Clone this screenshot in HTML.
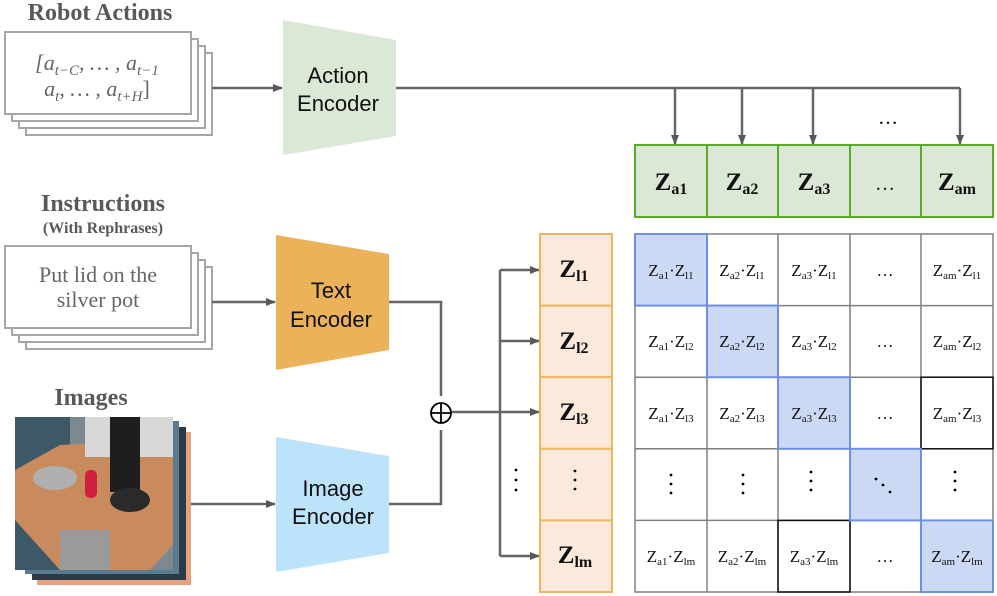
<!DOCTYPE html>
<html><head><meta charset="utf-8"><style>
html,body{margin:0;padding:0;background:#fff;}
svg{display:block;}
.ser{font-family:"Liberation Serif",serif;}
.san{font-family:"Liberation Sans",sans-serif;}
</style></head><body>
<svg width="997" height="596" viewBox="0 0 997 596" xmlns="http://www.w3.org/2000/svg">
<defs>
<marker id="ar" markerWidth="10" markerHeight="10" refX="9" refY="5" orient="auto" markerUnits="userSpaceOnUse">
<path d="M0,1 L10,5 L0,9 Z" fill="#595959"/></marker>
</defs>
<g class="ser" font-weight="bold" fill="#595959" text-anchor="middle">
<text x="100" y="20" font-size="24">Robot Actions</text>
<text x="103" y="211" font-size="24">Instructions</text>
<text x="103" y="233" font-size="16">(With Rephrases)</text>
<text x="91" y="405" font-size="24">Images</text>
</g>
<g fill="#fff" stroke="#a6a6a6" stroke-width="2">
<rect x="26" y="53" width="186" height="82"/>
<rect x="19" y="46" width="186" height="82"/>
<rect x="12" y="39" width="186" height="82"/>
<rect x="5" y="32" width="186" height="82"/>
<rect x="26" y="267" width="186" height="82"/>
<rect x="19" y="260" width="186" height="82"/>
<rect x="12" y="253" width="186" height="82"/>
<rect x="5" y="246" width="186" height="82"/>
</g>
<g class="ser" fill="#666" font-size="22" text-anchor="middle" font-style="italic">
<text x="97" y="70">[a<tspan font-size="15" dy="5">t−C</tspan><tspan dy="-5">, … , a</tspan><tspan font-size="15" dy="5">t−1</tspan></text>
<text x="97" y="96">a<tspan font-size="15" dy="5">t</tspan><tspan dy="-5">, … , a</tspan><tspan font-size="15" dy="5">t+H</tspan><tspan dy="-5" font-style="normal">]</tspan></text>
</g>
<g class="ser" fill="#666" font-size="22" text-anchor="middle">
<text x="98" y="282">Put lid on the</text>
<text x="98" y="307">silver pot</text>
</g>
<rect x="37" y="432" width="154" height="153" fill="#e6a080"/>
<rect x="32" y="427" width="154" height="153" fill="#2a3a48"/>
<rect x="25" y="421" width="154" height="153" fill="#5a7a90"/>
<rect x="15" y="417" width="158" height="153" fill="#7a8a90"/>
<rect x="15" y="417" width="55" height="153" fill="#3d5866"/>
<polygon points="15,520 15,470 60,445 173,440 173,545 150,570 60,570" fill="#c98a5e"/>
<rect x="85" y="417" width="88" height="40" fill="#d8d8d8"/>
<ellipse cx="55" cy="478" rx="22" ry="12" fill="#b0b0b0"/>
<rect x="110" y="417" width="30" height="75" fill="#1e1e1e"/>
<ellipse cx="130" cy="500" rx="20" ry="12" fill="#2a2a2a"/>
<rect x="85" y="470" width="12" height="28" fill="#d02040" rx="5"/>
<rect x="60" y="530" width="50" height="40" fill="#9a9a9a"/>
<polygon points="283,20 396,40 396,136 283,155" fill="#dce8d6"/>
<polygon points="276,235 389,254 389,350 276,370" fill="#ebb25a"/>
<polygon points="276,437 389,456 389,553 276,572" fill="#bde3fb"/>
<g class="san" font-size="22" fill="#111" text-anchor="middle">
<text x="338" y="83">Action</text><text x="338" y="111">Encoder</text>
<text x="331" y="298">Text</text><text x="331" y="327">Encoder</text>
<text x="333" y="496">Image</text><text x="333" y="524">Encoder</text>
</g>
<g stroke="#666" stroke-width="2.5" fill="none">
<line x1="212" y1="88" x2="282" y2="88" marker-end="url(#ar)"/>
<line x1="212" y1="302" x2="275" y2="302" marker-end="url(#ar)"/>
<line x1="191" y1="504" x2="275" y2="504" marker-end="url(#ar)"/>
<polyline points="396,88 960,88"/>
<line x1="675" y1="88" x2="675" y2="144" marker-end="url(#ar)"/>
<line x1="742" y1="88" x2="742" y2="144" marker-end="url(#ar)"/>
<line x1="813" y1="88" x2="813" y2="144" marker-end="url(#ar)"/>
<line x1="960" y1="88" x2="960" y2="144" marker-end="url(#ar)"/>
<polyline points="389,302 441,302 441,396"/>
<polyline points="389,504 441,504 441,430"/>
<line x1="452" y1="412" x2="500" y2="412"/>
<line x1="500" y1="270" x2="500" y2="556"/>
<line x1="500" y1="270" x2="539" y2="270" marker-end="url(#ar)"/>
<line x1="500" y1="341" x2="539" y2="341" marker-end="url(#ar)"/>
<line x1="500" y1="412" x2="539" y2="412" marker-end="url(#ar)"/>
<line x1="500" y1="556" x2="539" y2="556" marker-end="url(#ar)"/>
</g>
<circle cx="441" cy="413" r="10" fill="#fff" stroke="#000" stroke-width="1.8"/>
<line x1="431" y1="413" x2="451" y2="413" stroke="#000" stroke-width="1.8"/>
<line x1="441" y1="403" x2="441" y2="423" stroke="#000" stroke-width="1.8"/>
<text x="888" y="124" class="ser" font-size="20" text-anchor="middle">…</text>
<g fill="#000"><circle cx="516" cy="470" r="1.4"/><circle cx="516" cy="480" r="1.4"/><circle cx="516" cy="490" r="1.4"/></g>
<g fill="#dce8d6" stroke="#5aab28" stroke-width="2">
<rect x="635" y="145" width="72" height="72"/><rect x="707" y="145" width="71" height="72"/>
<rect x="778" y="145" width="72" height="72"/><rect x="850" y="145" width="71" height="72"/>
<rect x="921" y="145" width="72" height="72"/>
</g>
<g class="ser" font-weight="bold" font-size="25" text-anchor="middle" fill="#111">
<text x="671" y="190">Z<tspan font-size="16" dy="4">a1</tspan></text>
<text x="742" y="190">Z<tspan font-size="16" dy="4">a2</tspan></text>
<text x="814" y="190">Z<tspan font-size="16" dy="4">a3</tspan></text>
<text x="885" y="190" font-weight="normal" font-size="20">…</text>
<text x="957" y="190">Z<tspan font-size="16" dy="4">am</tspan></text>
</g>
<g fill="#fbe9dc" stroke="#efb660" stroke-width="2">
<rect x="540" y="234" width="72" height="71.6"/><rect x="540" y="305.6" width="72" height="71.6"/>
<rect x="540" y="377.2" width="72" height="71.6"/><rect x="540" y="448.8" width="72" height="71.6"/>
<rect x="540" y="520.4" width="72" height="71.6"/>
</g>
<g class="ser" font-weight="bold" font-size="25" text-anchor="middle" fill="#111">
<text x="574" y="277">Z<tspan font-size="16" dy="4">l1</tspan></text>
<text x="574" y="349">Z<tspan font-size="16" dy="4">l2</tspan></text>
<text x="574" y="420">Z<tspan font-size="16" dy="4">l3</tspan></text>
<text x="575" y="563">Z<tspan font-size="16" dy="4">lm</tspan></text>
</g>
<g fill="#000"><circle cx="575" cy="471" r="1.4"/><circle cx="575" cy="480" r="1.4"/><circle cx="575" cy="489" r="1.4"/></g>
<rect x="635" y="234" width="358" height="358" fill="#fff" stroke="#808080" stroke-width="1.5"/>
<g stroke="#808080" stroke-width="1.5">
<line x1="707" y1="234" x2="707" y2="592"/><line x1="778" y1="234" x2="778" y2="592"/>
<line x1="850" y1="234" x2="850" y2="592"/><line x1="921" y1="234" x2="921" y2="592"/>
<line x1="635" y1="305.6" x2="993" y2="305.6"/><line x1="635" y1="377.2" x2="993" y2="377.2"/>
<line x1="635" y1="448.8" x2="993" y2="448.8"/><line x1="635" y1="520.4" x2="993" y2="520.4"/>
</g>
<g fill="none" stroke="#111" stroke-width="1.5">
<rect x="921" y="377.2" width="72" height="71.6"/>
<rect x="778" y="520.4" width="72" height="71.6"/>
</g>
<g fill="#ccd9f5" stroke="#6d8fe6" stroke-width="2">
<rect x="635" y="234" width="72" height="71.6"/>
<rect x="707" y="305.6" width="71" height="71.6"/>
<rect x="778" y="377.2" width="72" height="71.6"/>
<rect x="850" y="448.8" width="71" height="71.6"/>
<rect x="921" y="520.4" width="72" height="71.6"/>
</g>
<g class="ser" font-size="17" text-anchor="middle" fill="#111">
<text x="671" y="276">Z<tspan font-size="11" dy="3">a1</tspan><tspan dy="-3">·Z</tspan><tspan font-size="11" dy="3">l1</tspan></text>
<text x="742" y="276">Z<tspan font-size="11" dy="3">a2</tspan><tspan dy="-3">·Z</tspan><tspan font-size="11" dy="3">l1</tspan></text>
<text x="814" y="276">Z<tspan font-size="11" dy="3">a3</tspan><tspan dy="-3">·Z</tspan><tspan font-size="11" dy="3">l1</tspan></text>
<text x="885" y="276">…</text>
<text x="957" y="276">Z<tspan font-size="11" dy="3">am</tspan><tspan dy="-3">·Z</tspan><tspan font-size="11" dy="3">l1</tspan></text>
<text x="671" y="347">Z<tspan font-size="11" dy="3">a1</tspan><tspan dy="-3">·Z</tspan><tspan font-size="11" dy="3">l2</tspan></text>
<text x="742" y="347">Z<tspan font-size="11" dy="3">a2</tspan><tspan dy="-3">·Z</tspan><tspan font-size="11" dy="3">l2</tspan></text>
<text x="814" y="347">Z<tspan font-size="11" dy="3">a3</tspan><tspan dy="-3">·Z</tspan><tspan font-size="11" dy="3">l2</tspan></text>
<text x="885" y="347">…</text>
<text x="957" y="347">Z<tspan font-size="11" dy="3">am</tspan><tspan dy="-3">·Z</tspan><tspan font-size="11" dy="3">l2</tspan></text>
<text x="671" y="419">Z<tspan font-size="11" dy="3">a1</tspan><tspan dy="-3">·Z</tspan><tspan font-size="11" dy="3">l3</tspan></text>
<text x="742" y="419">Z<tspan font-size="11" dy="3">a2</tspan><tspan dy="-3">·Z</tspan><tspan font-size="11" dy="3">l3</tspan></text>
<text x="814" y="419">Z<tspan font-size="11" dy="3">a3</tspan><tspan dy="-3">·Z</tspan><tspan font-size="11" dy="3">l3</tspan></text>
<text x="885" y="419">…</text>
<text x="957" y="419">Z<tspan font-size="11" dy="3">am</tspan><tspan dy="-3">·Z</tspan><tspan font-size="11" dy="3">l3</tspan></text>
<text x="671" y="562">Z<tspan font-size="11" dy="3">a1</tspan><tspan dy="-3">·Z</tspan><tspan font-size="11" dy="3">lm</tspan></text>
<text x="742" y="562">Z<tspan font-size="11" dy="3">a2</tspan><tspan dy="-3">·Z</tspan><tspan font-size="11" dy="3">lm</tspan></text>
<text x="814" y="562">Z<tspan font-size="11" dy="3">a3</tspan><tspan dy="-3">·Z</tspan><tspan font-size="11" dy="3">lm</tspan></text>
<text x="885" y="562">…</text>
<text x="957" y="562">Z<tspan font-size="11" dy="3">am</tspan><tspan dy="-3">·Z</tspan><tspan font-size="11" dy="3">lm</tspan></text>
</g>
<g fill="#000">
<circle cx="671" cy="475" r="1.4"/><circle cx="671" cy="484" r="1.4"/><circle cx="671" cy="493" r="1.4"/>
<circle cx="743" cy="475" r="1.4"/><circle cx="743" cy="484" r="1.4"/><circle cx="743" cy="493" r="1.4"/>
<circle cx="811" cy="472" r="1.4"/><circle cx="811" cy="481" r="1.4"/><circle cx="811" cy="490" r="1.4"/>
<circle cx="876" cy="479" r="1.4"/><circle cx="883" cy="485" r="1.4"/><circle cx="890" cy="492" r="1.4"/>
<circle cx="955" cy="472" r="1.4"/><circle cx="955" cy="481" r="1.4"/><circle cx="955" cy="490" r="1.4"/>
</g>
</svg>
</body></html>
